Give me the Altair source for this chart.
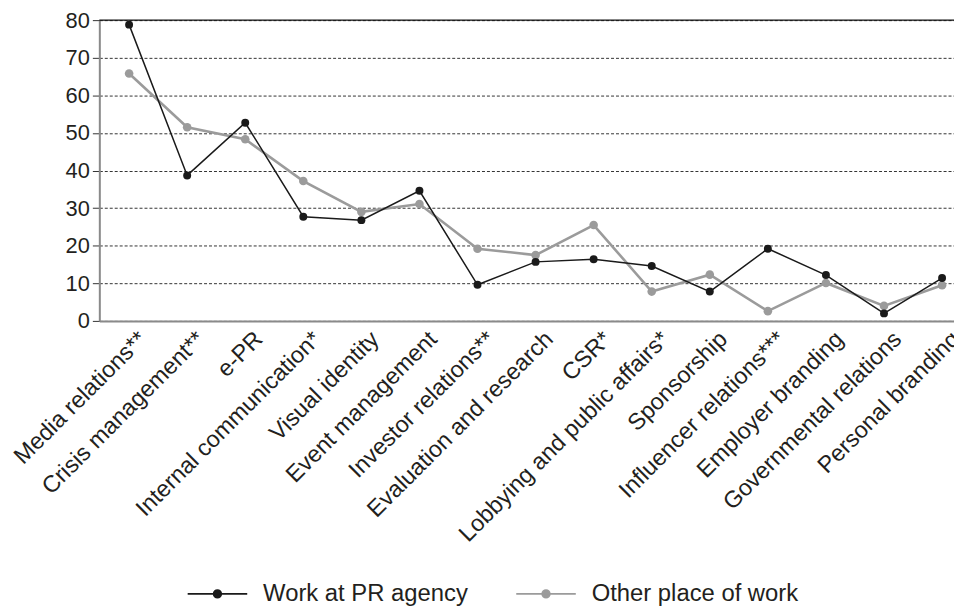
import altair as alt
import pandas as pd

categories = [
    "Media relations**", "Crisis management**", "e-PR", "Internal communication*",
    "Visual identity", "Event management", "Investor relations**", "Evaluation and research",
    "CSR*", "Lobbying and public affairs*", "Sponsorship", "Influencer relations***",
    "Employer branding", "Governmental relations", "Personal branding",
]
pr_agency = [78.8, 38.7, 52.7, 27.7, 26.8, 34.6, 9.6, 15.7, 16.4, 14.6, 7.8, 19.2, 12.2, 2.0, 11.4]
other_work = [65.8, 51.5, 48.3, 37.2, 29.0, 31.1, 19.2, 17.5, 25.5, 7.8, 12.3, 2.6, 10.1, 4.0, 9.5]
series_names = ["Work at PR agency", "Other place of work"]
series_colors = ["#1a1a1a", "#9b9b9b"]
y_ticks = [0, 10, 20, 30, 40, 50, 60, 70, 80]
y_top = [80]

rows = []
for c, a, b in zip(categories, pr_agency, other_work):
    rows.append({"cat": c, "series": series_names[0], "value": a})
    rows.append({"cat": c, "series": series_names[1], "value": b})
df = pd.DataFrame(rows)

FONT = "Liberation Sans"
TXT = "#231f20"

legend_symbol = ("M -1 0 L 1 0 M 0.13 0 A 0.13 0.13 0 1 1 -0.13 0 "
                 "A 0.13 0.13 0 1 1 0.13 0 Z")

color = alt.Color(
    "series:N",
    scale=alt.Scale(domain=series_names, range=series_colors),
    legend=alt.Legend(
        title=None, orient="none", legendX=88, legendY=547, direction="horizontal",
        symbolType=legend_symbol, symbolSize=3600, symbolStrokeWidth=1.6,
        labelFontSize=24, labelFont=FONT, labelColor=TXT, labelOffset=15,
        columnPadding=44, padding=0, labelLimit=400, symbolOpacity=1,
    ),
)

x = alt.X(
    "cat:N", sort=categories,
    scale=alt.Scale(type="point", padding=0.359, align=0.714),
    axis=alt.Axis(title=None, labelAngle=-45, labelFontSize=23.5, labelFont=FONT,
                  labelColor=TXT, ticks=False, labelPadding=6, labelOffset=5,
                  domainColor="#8a8a8a", domainWidth=2, labelLimit=400, grid=False),
)
y = alt.Y(
    "value:Q",
    scale=alt.Scale(domain=[0, 80], nice=False, zero=True),
    axis=alt.Axis(title=None, values=y_ticks, labelFontSize=22, labelFont=FONT,
                  labelColor=TXT, tickSize=7, tickColor="#333333", tickWidth=1,
                  labelPadding=3, domainColor="#8a8a8a", domainWidth=2,
                  labelOverlap=False, grid=True, gridColor="#333333",
                  gridDash=[3, 2], gridWidth=1),
)

base = alt.Chart(df).encode(x=x, y=y, color=color)
grey = base.transform_filter(alt.datum.series == series_names[1])
black = base.transform_filter(alt.datum.series == series_names[0])

top_rule = alt.Chart(pd.DataFrame({"value": y_top})).mark_rule(
    color="#111111", strokeWidth=1.5).encode(y=y)

chart = alt.layer(
    grey.mark_point(filled=True, size=75, opacity=1),
    grey.mark_line(strokeWidth=2.6),
    black.mark_line(strokeWidth=1.5),
    black.mark_point(filled=True, size=64, opacity=1),
    top_rule,
).properties(
    width=861, height=303,
    autosize=alt.AutoSizeParams(type="none"),
    padding={"left": 92, "top": 10, "right": 0, "bottom": 287},
).configure_view(stroke="#8a8a8a", strokeWidth=1.5).configure(background="white")

chart.save("out.html", embed_options={"renderer": "svg", "actions": False})
